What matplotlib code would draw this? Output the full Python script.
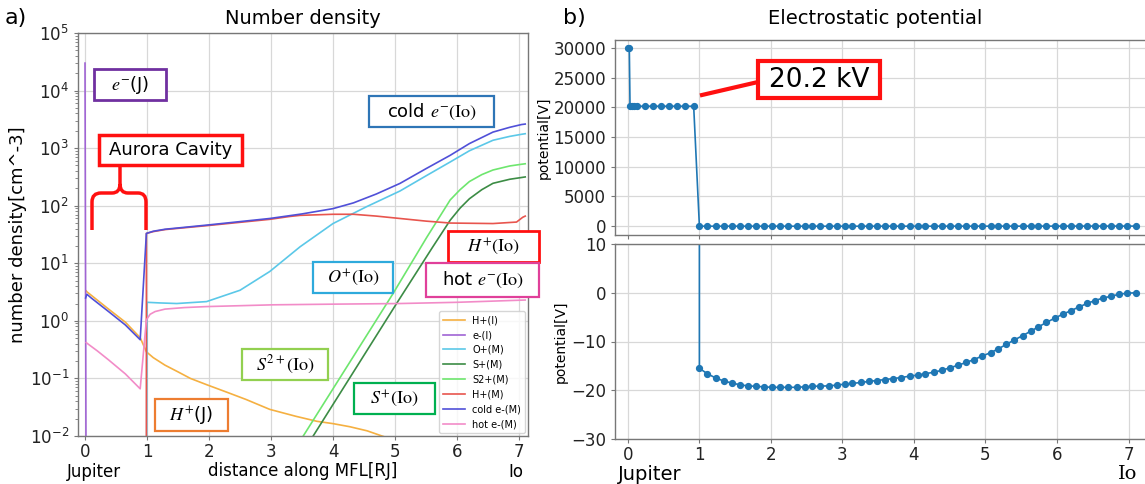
import matplotlib
matplotlib.use("Agg")
import matplotlib.pyplot as plt
from matplotlib.path import Path
from matplotlib.patches import PathPatch, Rectangle

# ---------------- data: panel a) number density ----------------
hpI_x = [0.02, 0.03, 0.38, 0.65, 0.89, 0.99, 1.1, 1.29, 1.5, 1.7, 1.96, 2.3, 2.6, 2.98, 3.4, 3.74,
         4.0, 4.27, 4.55, 4.79, 5.2, 6.0, 7.1]
hpI_y = [3.3, 3.2, 1.6, 0.95, 0.51, 0.29, 0.23, 0.17, 0.13, 0.1, 0.078, 0.057, 0.043, 0.029, 0.022, 0.018,
         0.0164, 0.0145, 0.0123, 0.010, 0.0071, 0.0032, 0.001]

eI_x = [0.0, 0.02]
eI_y = [3.0e4, 1e-4]

op_x = [0.99, 1.0, 1.2, 1.48, 1.96, 2.5, 2.98, 3.47, 4.0, 4.54, 5.08, 5.5, 5.89, 6.2, 6.58, 6.85, 7.04, 7.1]
op_y = [1e-4, 2.1, 2.05, 2.0, 2.16, 3.4, 7.2, 19.4, 49, 96, 180, 330, 575, 900, 1370, 1600, 1740, 1780]

sp_x = [3.45, 3.68, 5.03, 5.6, 5.89, 6.05, 6.2, 6.4, 6.58, 6.85, 7.04, 7.1]
sp_y = [0.004, 0.01, 2.04, 18.6, 56, 91, 132, 190, 245, 288, 309, 316]

s2p_x = [3.3, 3.52, 4.97, 5.51, 5.89, 6.05, 6.2, 6.4, 6.58, 6.85, 7.04, 7.1]
s2p_y = [0.0042, 0.01, 3.0, 28, 126, 190, 263, 347, 417, 490, 525, 535]

hpM_x = [0.99, 0.99, 1.1, 1.29, 1.96, 2.98, 3.3, 3.47, 4.0, 4.33, 4.7, 5.08, 5.5, 5.89, 6.58, 6.96, 7.06, 7.1]
hpM_y = [1e-4, 33, 35.5, 38.5, 45, 58, 65, 68, 71, 71, 66, 60, 54, 50, 49, 52, 63, 66]

cold_x = [0.01, 0.03, 0.1, 0.38, 0.65, 0.89, 0.99, 1.1, 1.29, 1.96, 2.98, 3.5, 4.0, 4.33, 4.7,
          5.08, 5.5, 5.89, 6.2, 6.58, 6.85, 7.04, 7.1]
cold_y = [2.5, 2.9, 2.5, 1.45, 0.85, 0.47, 33, 36, 39, 46, 60, 72, 89, 112, 160,
          244, 440, 750, 1200, 1900, 2300, 2570, 2620]

hot_x = [0.02, 0.03, 0.2, 0.38, 0.65, 0.89, 0.99, 1.05, 1.13, 1.29, 1.6, 1.96, 3.04, 4.0, 5.08, 6.0, 7.1]
hot_y = [0.42, 0.41, 0.3, 0.21, 0.12, 0.066, 1.04, 1.3, 1.45, 1.6, 1.7, 1.77, 1.9, 1.95, 2.0, 2.1, 2.3]

species = ["H+(I)", "e-(I)", "O+(M)", "S+(M)", "S2+(M)", "H+(M)", "cold e-(M)", "hot e-(M)"]
colors = ["#f5b041", "#a064d4", "#5bc8e8", "#3c8c45", "#6ee66e", "#e8554e", "#5050d8", "#f28cc8"]
series_x = [hpI_x, eI_x, op_x, sp_x, s2p_x, hpM_x, cold_x, hot_x]
series_y = [hpI_y, eI_y, op_y, sp_y, s2p_y, hpM_y, cold_y, hot_y]

# ---------------- data: panel b) electrostatic potential ----------------
pot_x = [0.0, 0.02, 0.03, 0.06, 0.09, 0.13, 0.24, 0.35, 0.46, 0.57, 0.69, 0.80, 0.92,
         1.00, 1.11, 1.23, 1.34, 1.45, 1.57, 1.68, 1.79, 1.90, 2.02, 2.13, 2.24, 2.36, 2.47,
         2.58, 2.69, 2.81, 2.92, 3.03, 3.14, 3.26, 3.37, 3.48, 3.60, 3.71, 3.82, 3.94, 4.05,
         4.16, 4.28, 4.39, 4.50, 4.61, 4.73, 4.84, 4.95, 5.07, 5.18, 5.29, 5.40, 5.52, 5.63,
         5.74, 5.85, 5.97, 6.08, 6.19, 6.31, 6.42, 6.53, 6.64, 6.76, 6.87, 6.98, 7.10]
pot_y = [30000, 30000, 20200, 20200, 20200, 20200, 20200, 20200, 20200, 20200, 20200, 20200, 20200,
         -15.5, -16.6, -17.5, -18.1, -18.5, -18.9, -19.1, -19.2, -19.3, -19.4, -19.4, -19.4, -19.4, -19.3,
         -19.2, -19.15, -19.1, -18.95, -18.75, -18.6, -18.4, -18.2, -18.0, -17.8, -17.6, -17.4, -17.1, -16.9,
         -16.6, -16.3, -15.9, -15.4, -14.9, -14.3, -13.7, -13.0, -12.3, -11.5, -10.6, -9.7, -8.8, -7.9,
         -7.0, -6.1, -5.2, -4.4, -3.7, -2.9, -2.2, -1.6, -1.1, -0.7, -0.3, -0.1, 0.0]

xticks = [0, 1, 2, 3, 4, 5, 6, 7]

# ---------------- figure ----------------
W, H = 1145, 484
fig = plt.figure(figsize=(W / 100, H / 100), dpi=100)

def fx(x):
    return x / W

def fy(y):
    return 1 - y / H

SPINE = "#777777"
GRID = "#d8d8d8"

def style(ax):
    for s in ax.spines.values():
        s.set_color(SPINE)
        s.set_linewidth(1.0)
    ax.grid(True, color=GRID, linewidth=0.9)
    ax.set_axisbelow(True)
    ax.tick_params(colors="#222222", labelsize=12, length=3, color=SPINE)
    ax.tick_params(axis="x", pad=2)

# panel a
ax = fig.add_axes([fx(78), fy(436), 450 / W, 403 / H])
style(ax)
for xs, ys, lab, c in zip(series_x, series_y, species, colors):
    ax.plot(xs, ys, color=c, lw=1.2, label=lab)
ax.set_yscale("log")
ax.set_ylim(1e-2, 1e5)
ax.set_xlim(-0.113, 7.145)
ax.set_xticks(xticks)
ax.tick_params(axis="y", which="minor", length=2, color=SPINE)
ax.set_xlabel("distance along MFL[RJ]", fontsize=12, labelpad=1)
ax.set_ylabel("number density[cm^-3]", fontsize=13, labelpad=2)
fig.text(fx(303), fy(18), "Number density", fontsize=14, ha="center", va="center")
leg = ax.legend(loc="lower right", bbox_to_anchor=(1.0, 0.0), fontsize=7,
                frameon=True, borderaxespad=0.3, handlelength=2.2)
leg.get_frame().set_edgecolor("#cccccc")

# panel b (broken axis)
axt = fig.add_axes([fx(615), fy(235), 535 / W, 195 / H])
axb = fig.add_axes([fx(615), fy(439), 535 / W, 195 / H])
for a in (axt, axb):
    style(a)
    a.plot(pot_x, pot_y, color="#1f77b4", lw=1.2, marker="o", ms=4.2)
    a.set_xlim(-0.18, 7.30)
    a.set_xticks(xticks)
    a.set_ylabel("potential[V]", fontsize=10, labelpad=2)
axt.set_ylim(-1500, 31350)
axt.set_yticks([0, 5000, 10000, 15000, 20000, 25000, 30000])
axt.tick_params(axis="x", labelbottom=False)
axb.set_ylim(-30, 10)
axb.set_yticks([-30, -20, -10, 0, 10])
fig.text(fx(875), fy(19), "Electrostatic potential", fontsize=14, ha="center", va="center")

# panel letters and end labels
fig.text(fx(5), fy(18), "a)", fontsize=16, va="center", ha="left")
fig.text(fx(563), fy(18), "b)", fontsize=16, va="center", ha="left")
fig.text(fx(94), fy(472), "Jupiter", fontsize=12, ha="center", va="center")
fig.text(fx(516), fy(472), "Io", fontsize=12, ha="center", va="center")
fig.text(fx(650), fy(474), "Jupiter", fontsize=14, ha="center", va="center")
fig.text(fx(1128), fy(474), "Io", fontsize=14, ha="center", va="center", family="DejaVu Serif")

# annotation boxes (figure pixel extents)
boxes = [
    (94, 69, 166, 100, "#7030a0", r"$e^{-}$(J)", 2.0),
    (99, 135, 242, 165, "#ff1010", "Aurora Cavity", 2.5),
    (369, 96, 494, 127, "#2e75b6", r"cold $e^{-}(\mathrm{Io})$", 1.6),
    (313, 262, 393, 293, "#2eaadc", r"$O^{+}(\mathrm{Io})$", 1.6),
    (448, 231, 539, 262, "#ff1010", r"$H^{+}(\mathrm{Io})$", 2.0),
    (426, 263, 539, 297, "#e0409a", r"hot $e^{-}(\mathrm{Io})$", 1.6),
    (242, 349, 328, 380, "#92d050", r"$S^{2+}(\mathrm{Io})$", 1.6),
    (155, 399, 228, 431, "#ed7d31", r"$H^{+}$(J)", 1.6),
    (354, 383, 435, 414, "#00b050", r"$S^{+}(\mathrm{Io})$", 1.6),
]
for x0, y0, x1, y1, c, t, lw in boxes:
    r = Rectangle((fx(x0), fy(y1)), (x1 - x0) / W, (y1 - y0) / H, transform=fig.transFigure,
                  facecolor="white", edgecolor=c, lw=lw, zorder=5)
    fig.add_artist(r)
    fig.text(fx((x0 + x1) / 2), fy((y0 + y1) / 2), t, fontsize=13, ha="center", va="center",
             math_fontfamily="stix", zorder=6)

# 20.2 kV box and pointer
fig.add_artist(plt.Line2D([fx(702), fx(758)], [fy(95), fy(82)], transform=fig.transFigure,
                          color="#ff1010", lw=3, zorder=5))
fig.add_artist(Rectangle((fx(758), fy(98)), 122 / W, 37 / H, transform=fig.transFigure,
                         facecolor="white", edgecolor="#ff1010", lw=3, zorder=5))
fig.text(fx(819), fy(80), "20.2 kV", fontsize=19, ha="center", va="center", zorder=6)

# curly brace for aurora cavity
pts = [(92, 230), (92, 202), (92, 193), (101, 193), (112, 193), (120, 193), (120, 184), (120, 167),
       (120, 184), (120, 193), (128, 193), (138, 193), (146, 193), (146, 202), (146, 230)]
codes = [Path.MOVETO, Path.LINETO, Path.CURVE3, Path.CURVE3, Path.LINETO, Path.CURVE3, Path.CURVE3,
         Path.LINETO, Path.MOVETO, Path.CURVE3, Path.CURVE3, Path.LINETO, Path.CURVE3, Path.CURVE3,
         Path.LINETO]
brace = PathPatch(Path([(fx(a), fy(b)) for a, b in pts], codes), transform=fig.transFigure,
                  facecolor="none", edgecolor="#ff1010", lw=2.5, zorder=5)
fig.add_artist(brace)

fig.savefig("out.png", dpi=100)
